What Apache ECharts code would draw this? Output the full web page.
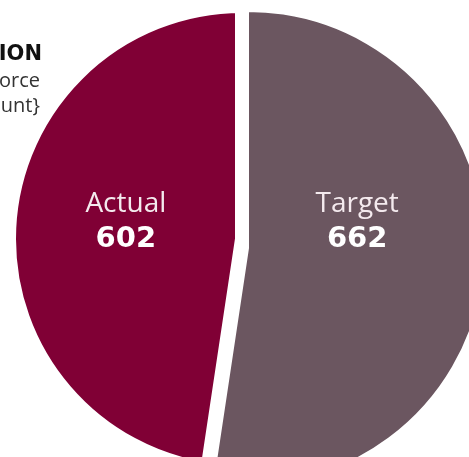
<!DOCTYPE html>
<html>
<head>
<meta charset="utf-8">
<script src="https://cdn.jsdelivr.net/npm/echarts@6/dist/echarts.min.js"></script>
<style>
html,body{margin:0;padding:0;background:#fff;}
#chart{width:469px;height:457px;}
</style>
</head>
<body>
<div id="chart"></div>
<script>
const categories = ['Actual', 'Target'];
const values = [602, 662];
const sliceColors = ['#800035', '#6b5660'];
const titleLines = ['HEADCOUNT POSITION', 'Workforce', '{count}'];

// each slice drawn by its own pie layer (same data, the other slice left transparent)
function layerData(show) {
  return categories.map((c, i) => i === show
    ? {name: c, value: values[i], itemStyle: {color: sliceColors[i]}}
    : {name: c, value: values[i], itemStyle: {color: 'transparent', borderWidth: 0}, label: {show: false}});
}

const labelRich = {
  n: {color: '#f4eaee', fontFamily: 'Open Sans', fontSize: 28, fontWeight: 'normal', lineHeight: 36, align: 'center'},
  v: {color: '#ffffff', fontFamily: 'DejaVu Sans', fontSize: 29, fontWeight: 'bold', lineHeight: 34, align: 'center'}
};

function pieLayer(show, center, radius, border, dx) {
  return {
    type: 'pie',
    center: center,
    radius: [0, radius],
    startAngle: 90,
    clockwise: false,
    silent: true,
    z: 5,
    itemStyle: {borderColor: '#ffffff', borderWidth: border},
    label: {position: 'inside', formatter: '{n|{b}}\n{v|{c}}', rich: labelRich},
    labelLine: {show: false},
    labelLayout: {y: 221, dx: dx},
    data: layerData(show)
  };
}

const chart = echarts.init(document.getElementById('chart'), null, {renderer: 'canvas'});
chart.setOption({
  animation: false,
  backgroundColor: '#ffffff',
  graphic: [
    {type: 'text', x: 42, y: 55, silent: true, style: {text: titleLines[0], fill: '#111', font: 'bold 21px "DejaVu Sans"', align: 'right', verticalAlign: 'middle'}},
    {type: 'text', x: 40, y: 81, silent: true, style: {text: titleLines[1], fill: '#333', font: '20px "Open Sans"', align: 'right', verticalAlign: 'middle'}},
    {type: 'text', x: 40, y: 106, silent: true, style: {text: titleLines[2], fill: '#333', font: '20px "Open Sans"', align: 'right', verticalAlign: 'middle'}}
  ],
  series: [
    pieLayer(0, [242, 239], 233, 14, 3),
    pieLayer(1, [248, 248], 237, 2, -12)
  ]
});
</script>
</body>
</html>
